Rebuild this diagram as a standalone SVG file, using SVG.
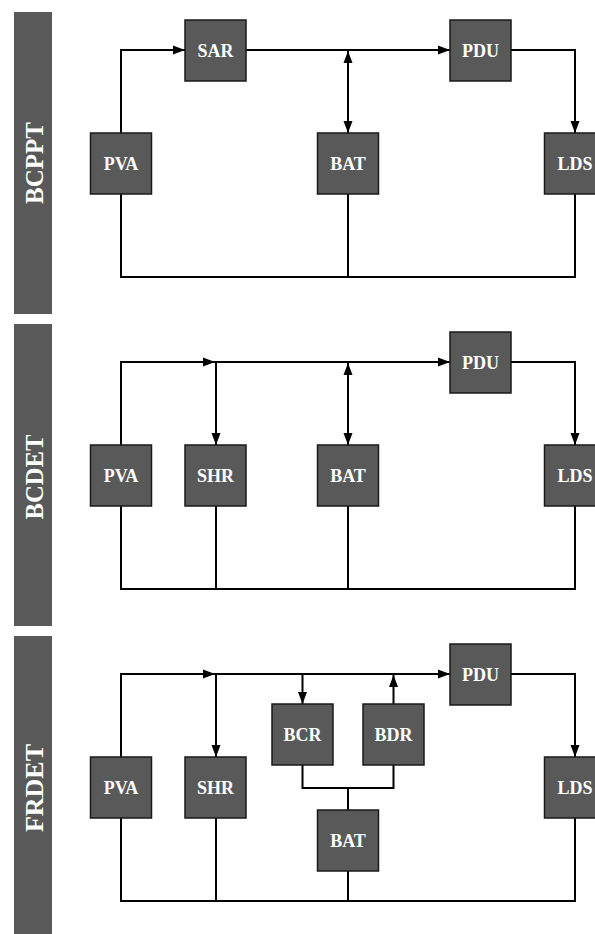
<svg xmlns="http://www.w3.org/2000/svg" width="595" height="934" viewBox="0 0 595 934">
<style>
.bar{fill:#595959}
.box rect{fill:#595959;stroke:#1a1a1a;stroke-width:1.5}
.box text{fill:#ffffff;font-family:"Liberation Serif","DejaVu Serif",serif;font-weight:bold;font-size:18px;text-anchor:middle}
.lbl{fill:#ffffff;font-family:"Liberation Serif","DejaVu Serif",serif;font-weight:bold;font-size:26px;text-anchor:middle}
.c path{fill:none;stroke:#000;stroke-width:2}
.a{marker-end:url(#ah)}
.b{marker-start:url(#ah);marker-end:url(#ah)}
</style>
<defs>
<marker id="ah" markerUnits="userSpaceOnUse" markerWidth="12" markerHeight="10" refX="12" refY="5" orient="auto-start-reverse">
<path d="M0,0.5 L12,5 L0,9.5 z" fill="#000"/>
</marker>
</defs>

<!-- side labels -->
<g id="label-bcppt"><rect class="bar" x="14" y="12" width="38" height="302"/><text class="lbl" transform="translate(42.5,163) rotate(-90)" textLength="82" lengthAdjust="spacingAndGlyphs">BCPPT</text></g>
<g id="label-bcdet"><rect class="bar" x="14" y="324" width="38" height="302"/><text class="lbl" transform="translate(42.5,477) rotate(-90)" textLength="85" lengthAdjust="spacingAndGlyphs">BCDET</text></g>
<g id="label-frdet"><rect class="bar" x="14" y="636" width="38" height="302"/><text class="lbl" transform="translate(42.5,788) rotate(-90)" textLength="88" lengthAdjust="spacingAndGlyphs">FRDET</text></g>

<!-- connectors -->
<g id="connectors" class="c">
<!-- section 1 -->
<path class="a" d="M121,133 V50 H185"/>
<path class="a" d="M246,50 H450"/>
<path class="b" d="M348,51 V133"/>
<path class="a" d="M511,50 H575 V133"/>
<path d="M121,194 V277 H575 V194"/>
<path d="M348,194 V277"/>
<!-- section 2 -->
<path class="a" d="M121,445 V362 H215"/>
<path class="a" d="M215,362 H450"/>
<path class="a" d="M216,362 V445"/>
<path class="b" d="M348,363 V445"/>
<path class="a" d="M511,362 H575 V445"/>
<path d="M121,506 V589 H575 V506"/>
<path d="M216,506 V589"/>
<path d="M348,506 V589"/>
<!-- section 3 -->
<path class="a" d="M121,757 V674 H215"/>
<path class="a" d="M215,674 H450"/>
<path class="a" d="M216,674 V757"/>
<path class="a" d="M302.5,674 V704"/>
<path class="a" d="M393.5,704 V675"/>
<path class="a" d="M511,674 H575 V757"/>
<path d="M302.5,765 V788 H393.5 V765"/>
<path d="M348,788 V810"/>
<path d="M121,818 V901 H575 V818"/>
<path d="M216,818 V901"/>
<path d="M348,871 V901"/>
</g>

<!-- section 1 nodes -->
<g id="s1-sar" class="box"><rect x="185" y="20" width="61" height="61"/><text x="215.5" y="57">SAR</text></g>
<g id="s1-pdu" class="box"><rect x="450" y="20" width="61" height="61"/><text x="480.5" y="57">PDU</text></g>
<g id="s1-pva" class="box"><rect x="90.5" y="133" width="61" height="61"/><text x="121" y="170">PVA</text></g>
<g id="s1-bat" class="box"><rect x="317.5" y="133" width="61" height="61"/><text x="348" y="170">BAT</text></g>
<g id="s1-lds" class="box"><rect x="544.5" y="133" width="61" height="61"/><text x="575" y="170">LDS</text></g>

<!-- section 2 nodes -->
<g id="s2-pdu" class="box"><rect x="450" y="332" width="61" height="61"/><text x="480.5" y="369">PDU</text></g>
<g id="s2-pva" class="box"><rect x="90.5" y="445" width="61" height="61"/><text x="121" y="482">PVA</text></g>
<g id="s2-shr" class="box"><rect x="185" y="445" width="61" height="61"/><text x="215.5" y="482">SHR</text></g>
<g id="s2-bat" class="box"><rect x="317.5" y="445" width="61" height="61"/><text x="348" y="482">BAT</text></g>
<g id="s2-lds" class="box"><rect x="544.5" y="445" width="61" height="61"/><text x="575" y="482">LDS</text></g>

<!-- section 3 nodes -->
<g id="s3-pdu" class="box"><rect x="450" y="644" width="61" height="61"/><text x="480.5" y="681">PDU</text></g>
<g id="s3-bcr" class="box"><rect x="272" y="704" width="61" height="61"/><text x="302.5" y="741">BCR</text></g>
<g id="s3-bdr" class="box"><rect x="363" y="704" width="61" height="61"/><text x="393.5" y="741">BDR</text></g>
<g id="s3-pva" class="box"><rect x="90.5" y="757" width="61" height="61"/><text x="121" y="794">PVA</text></g>
<g id="s3-shr" class="box"><rect x="185" y="757" width="61" height="61"/><text x="215.5" y="794">SHR</text></g>
<g id="s3-lds" class="box"><rect x="544.5" y="757" width="61" height="61"/><text x="575" y="794">LDS</text></g>
<g id="s3-bat" class="box"><rect x="317.5" y="810" width="61" height="61"/><text x="348" y="847">BAT</text></g>
</svg>
